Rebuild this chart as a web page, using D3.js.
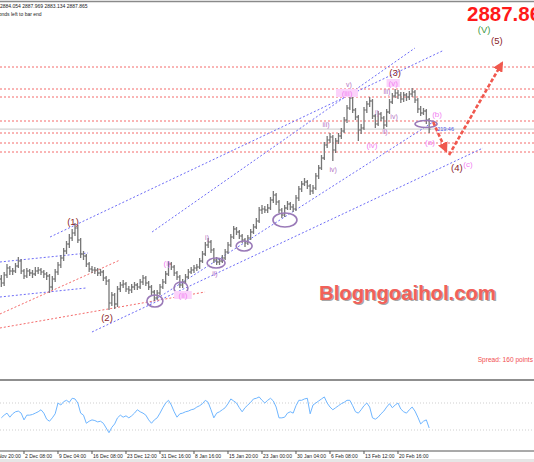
<!DOCTYPE html>
<html>
<head>
<meta charset="utf-8">
<script src="https://cdn.jsdelivr.net/npm/d3@7"></script>
<style>
  html, body { margin: 0; padding: 0; background: #fff; }
  svg { display: block; font-family: "Liberation Sans", Arial, sans-serif; }
</style>
</head>
<body>
<svg id="chart" width="534" height="462"></svg>
<script>
// H4 bars
const closes = [2580,2596,2610,2604,2604,2614,2624,2604,2594,2604,2600,2598,2604,2606,2602,2598,2594,2572,2588,2602,
  2616,2630,2644,2658,2670,2680,2690,2666,2638,2634,2618,2608,2606,2606,2600,2602,2590,2584,2540,2556,
  2538,2568,2576,2578,2568,2566,2572,2576,2572,2582,2590,2580,2572,2562,2550,2560,2572,2582,2598,2618,
  2612,2600,2592,2576,2582,2592,2602,2606,2610,2612,2624,2638,2656,2662,2646,2626,2622,2624,2630,2642,
  2656,2672,2688,2682,2674,2666,2660,2670,2682,2692,2704,2726,2728,2726,2730,2746,2756,2742,2726,2716,
  2730,2738,2732,2728,2750,2768,2778,2782,2774,2764,2770,2794,2810,2830,2856,2866,2872,2846,2864,2874,
  2884,2906,2930,2950,2926,2912,2886,2890,2926,2938,2944,2914,2898,2918,2910,2896,2922,2942,2954,2960,
  2956,2948,2956,2952,2958,2962,2946,2928,2920,2924,2906,2887.86];
const highs = [2596,2602,2618,2614,2610,2620,2632,2628,2608,2610,2608,2606,2612,2612,2610,2606,2602,2598,2594,2608,
  2622,2636,2650,2664,2678,2688,2700,2696,2670,2644,2638,2622,2614,2612,2610,2608,2606,2594,2588,2562,
  2560,2574,2582,2586,2582,2574,2578,2582,2580,2588,2596,2594,2584,2576,2566,2566,2578,2588,2604,2624,
  2622,2616,2604,2596,2588,2598,2608,2612,2616,2618,2630,2644,2662,2670,2666,2650,2632,2630,2636,2648,
  2662,2678,2694,2692,2686,2678,2670,2676,2688,2698,2710,2732,2736,2734,2738,2752,2764,2760,2746,2730,
  2736,2744,2742,2738,2756,2774,2784,2790,2786,2778,2776,2800,2816,2836,2862,2874,2880,2876,2870,2880,
  2890,2912,2936,2962,2954,2930,2916,2898,2932,2944,2952,2948,2918,2924,2922,2914,2928,2948,2960,2968,
  2966,2962,2962,2960,2964,2970,2966,2950,2934,2930,2928,2910];
const lows = [2572,2574,2590,2596,2596,2600,2610,2598,2588,2590,2594,2590,2594,2598,2596,2590,2586,2560,2566,2582,
  2596,2610,2624,2638,2650,2664,2674,2660,2630,2626,2612,2602,2600,2598,2594,2594,2584,2576,2526,2534,
  2528,2532,2562,2570,2562,2558,2560,2566,2566,2568,2576,2574,2566,2556,2544,2546,2556,2568,2578,2594,
  2606,2594,2586,2570,2570,2578,2588,2598,2600,2604,2608,2620,2634,2650,2640,2620,2616,2616,2620,2626,
  2638,2652,2668,2676,2668,2660,2652,2656,2666,2678,2688,2700,2718,2720,2720,2726,2740,2736,2720,2710,
  2712,2726,2726,2722,2724,2744,2762,2774,2768,2756,2758,2766,2788,2806,2826,2850,2860,2824,2840,2858,
  2868,2880,2900,2926,2920,2906,2864,2878,2886,2920,2932,2908,2890,2894,2904,2888,2892,2918,2938,2950,
  2948,2940,2942,2944,2946,2952,2940,2920,2914,2916,2898,2880];
const firstOpen = 2588;

// oscillator in the lower panel
const rsi = [48,52,55,49,54,57,58,55,45,52,52,53,55,57,60,55,46,43,48,54,
  70,67,72,74,71,77,76,70,55,52,40,43,45,44,42,43,40,33,26,34,
  39,48,52,49,51,48,51,55,60,57,55,52,45,40,45,48,55,63,70,74,
  67,57,49,54,55,57,58,60,61,64,66,69,74,71,60,48,55,57,60,63,
  69,76,73,70,63,57,63,67,71,76,77,79,74,70,74,77,73,64,48,48,
  49,55,57,55,66,74,74,76,77,54,67,70,73,76,79,70,64,60,63,66,
  69,71,74,74,66,57,55,60,66,70,64,48,46,49,54,58,64,69,63,67,
  70,61,57,55,60,64,58,49,39,43,45,33];
const rsiLevels = [70, 30];

const tickDates = ["29 Nov 20:00","2 Dec 08:00","9 Dec 04:00","16 Dec 08:00","23 Dec 12:00","31 Dec 16:00",
  "8 Jan 16:00","15 Jan 20:00","23 Jan 00:00","30 Jan 04:00","6 Feb 08:00","13 Feb 12:00","20 Feb 16:00"];
const tickBars = [-4,8,20,32,44,56,68,80,92,104,116,128,140];

const levels = [3012, 2968, 2952, 2904, 2880, 2860, 2842];
// [bar, price, bar, price]
const blueLines = [[17.2,2672,155.6,3044],[53.2,2682,146.0,3050],[51.4,2536,152.4,2902],
  [32.0,2482,170.0,2850],[-0.5,2622,30.6,2640],[-0.5,2552,29.9,2570]];
const redLines = [[-0.5,2518,41.9,2626],[-0.5,2490,71.9,2562]];
const arrows = [[152.4,2902,157.0,2844],[158.0,2836,176.7,3020]];
const circles = [[54.2,2544],[63.4,2570],[75.8,2620],[85.7,2654],[100.1,2706],[149.9,2898]];
const circleSize = [[8,6],[7,6],[9,5],[8,5],[12,7],[11,3.5]];

const waveLabels = [
  ["(1)",25.3,2702,"major"],["(2)",37.3,2510,"major"],["(3)",139.0,3001,"major"],
  ["(4)",160.8,2810,"major"],["(5)",174.9,3064,"major"],["(V)",170.4,3086,"cycle"],
  ["(c)",164.7,2818,"minor"],["(a)",151.3,2862,"minor"],["(b)",153.8,2918,"minor"],
  ["(iv)",130.8,2856,"minor"],["(v)",138.3,2980,"minorbox"],["(iii)",122.0,2960,"minorbox"],
  ["(i)",58.5,2620,"minor"],["(ii)",64.1,2556,"minorbox"],
  ["v)",122.7,2976,"sub"],["iii)",114.6,2896,"sub"],["iv)",117.1,2806,"sub"],
  ["i)",132.6,2920,"sub"],["ii)",135.4,2882,"sub"],["iv)",138.6,2912,"sub"],["iii)",136.1,2962,"sub"],
  ["i)",72.6,2670,"sub"],["ii)",75.4,2598,"sub"]
];

const width = 534;
const height = 462;
const svg = d3.select("#chart");

const x = d3.scaleLinear().domain([0, 12]).range([1.33, 35.33]);
const y = d3.scaleLinear().domain([2500, 2900]).range([323, 123]);
const yr = d3.scaleLinear().domain([0, 100]).range([450.25, 382.75]);

const labelColor = { major: "#8a2428", cycle: "#3f9a45", minor: "#f27ff2", minorbox: "#f27ff2", sub: "#b473c4" };
const labelSize = { major: 9.5, cycle: 9.5, minor: 8, minorbox: 8, sub: 7 };

const defs = svg.append("defs");
defs.append("clipPath").attr("id", "main").append("rect").attr("x", 0).attr("y", 3).attr("width", width).attr("height", 376);
defs.append("clipPath").attr("id", "sub").append("rect").attr("x", 0).attr("y", 382).attr("width", width).attr("height", 68);
defs.append("marker").attr("id", "head").attr("viewBox", "0 0 10 10").attr("refX", 8).attr("refY", 5)
  .attr("markerWidth", 4).attr("markerHeight", 4).attr("orient", "auto")
  .append("path").attr("d", "M0,0L10,5L0,10z").attr("fill", "#f0584e");

const main = svg.append("g").attr("clip-path", "url(#main)");

// bid line
main.append("line").attr("x1", 0).attr("x2", width)
  .attr("y1", y(closes[closes.length - 1])).attr("y2", y(closes[closes.length - 1]))
  .attr("stroke", "#d4d4d4").attr("stroke-width", 1.2);

// horizontal levels
main.append("g").selectAll("line").data(levels).join("line")
  .attr("x1", 0).attr("x2", width).attr("y1", d => y(d)).attr("y2", d => y(d))
  .attr("stroke", "#f46a6a").attr("stroke-width", 1).attr("stroke-dasharray", "2,2");

// trend channels
main.append("g").selectAll("line").data(blueLines).join("line")
  .attr("x1", d => x(d[0])).attr("y1", d => y(d[1])).attr("x2", d => x(d[2])).attr("y2", d => y(d[3]))
  .attr("stroke", "#6d6cf7").attr("stroke-width", 1).attr("stroke-dasharray", "2,2");
main.append("g").selectAll("line").data(redLines).join("line")
  .attr("x1", d => x(d[0])).attr("y1", d => y(d[1])).attr("x2", d => x(d[2])).attr("y2", d => y(d[3]))
  .attr("stroke", "#f46a6a").attr("stroke-width", 1).attr("stroke-dasharray", "2,2");

// bars
const bars = main.append("g").attr("stroke", "#777").attr("stroke-width", 1.3);
closes.forEach((c, i) => {
  const o = i === 0 ? firstOpen : closes[i - 1];
  const xi = x(i);
  bars.append("line").attr("x1", xi).attr("x2", xi).attr("y1", y(highs[i])).attr("y2", y(lows[i]));
  bars.append("line").attr("x1", xi - 1.3).attr("x2", xi).attr("y1", y(o)).attr("y2", y(o));
  bars.append("line").attr("x1", xi).attr("x2", xi + 1.3).attr("y1", y(c)).attr("y2", y(c));
});

// circled lows
main.append("g").selectAll("ellipse").data(circles).join("ellipse")
  .attr("cx", d => x(d[0])).attr("cy", d => y(d[1]))
  .attr("rx", (d, i) => circleSize[i][0]).attr("ry", (d, i) => circleSize[i][1])
  .attr("fill", "none").attr("stroke", "#9a7ab8").attr("stroke-width", 1.6);

// arrows
main.append("g").selectAll("line").data(arrows).join("line")
  .attr("x1", d => x(d[0])).attr("y1", d => y(d[1])).attr("x2", d => x(d[2])).attr("y2", d => y(d[3]))
  .attr("stroke", "#f0584e").attr("stroke-width", 2.6).attr("stroke-dasharray", "4,2")
  .attr("marker-end", "url(#head)");

// wave labels
const lab = main.append("g").attr("text-anchor", "middle");
lab.selectAll("rect").data(waveLabels.filter(d => d[3] === "minorbox")).join("rect")
  .attr("x", d => x(d[1]) - d[0].length * 2.2).attr("y", d => y(d[2]) - 4)
  .attr("width", d => d[0].length * 4.4).attr("height", 8).attr("fill", "#fbd3fb");
lab.selectAll("text").data(waveLabels).join("text")
  .attr("x", d => x(d[1])).attr("y", d => y(d[2])).attr("dy", "0.35em")
  .attr("font-size", d => labelSize[d[3]]).attr("fill", d => labelColor[d[3]])
  .text(d => d[0]);

// price tag next to the last bar
main.append("text").attr("x", x(151) + 8).attr("y", y(closes[151]) + 2)
  .attr("font-size", 5.5).attr("fill", "#4b55e6").text("219:46");

// watermark
main.append("text").attr("x", 319).attr("y", 300).attr("font-size", 20.3).attr("font-weight", "bold")
  .attr("fill", "#6e6e6e").attr("opacity", 0.6).attr("transform", "translate(1.3,1.3)").text("Blogngoaihol.com");
main.append("text").attr("x", 319).attr("y", 300).attr("font-size", 20.3).attr("font-weight", "bold")
  .attr("fill", "#f2615a").text("Blogngoaihol.com");

main.append("text").attr("x", 533).attr("y", 362).attr("text-anchor", "end")
  .attr("font-size", 6.6).attr("fill", "#f25050").text("Spread: 160 points");

// header
svg.append("line").attr("x1", 0).attr("x2", width).attr("y1", 1.5).attr("y2", 1.5)
  .attr("stroke", "#8a8a8a").attr("stroke-width", 1.5);
svg.append("text").attr("x", 0).attr("y", 8).attr("font-size", 5).attr("fill", "#222")
  .text("2884.054 2887.969 2883.134 2887.865");
svg.append("text").attr("x", -9).attr("y", 15.5).attr("font-size", 5).attr("fill", "#222")
  .text("seconds left to bar end");
svg.append("text").attr("x", 467).attr("y", 21).attr("font-size", 20.5).attr("font-weight", "bold")
  .attr("fill", "#ff1a1a").text("2887.86");

// lower panel
svg.append("line").attr("x1", 0).attr("x2", width).attr("y1", 380).attr("y2", 380)
  .attr("stroke", "#8f8f8f").attr("stroke-width", 2);
const sub = svg.append("g").attr("clip-path", "url(#sub)");
sub.selectAll("line").data(rsiLevels).join("line")
  .attr("x1", 0).attr("x2", width).attr("y1", d => yr(d)).attr("y2", d => yr(d))
  .attr("stroke", "#cfcfcf").attr("stroke-dasharray", "1,2");
sub.append("path").datum(rsi)
  .attr("d", d3.line().x((d, i) => x(i)).y(d => yr(d)))
  .attr("fill", "none").attr("stroke", "#6fb6ff").attr("stroke-width", 1);

// time axis
svg.append("line").attr("x1", 0).attr("x2", width).attr("y1", 451).attr("y2", 451)
  .attr("stroke", "#555").attr("stroke-width", 1);
const ticks = svg.append("g").selectAll("g").data(tickBars).join("g")
  .attr("transform", d => `translate(${x(d)},451)`);
ticks.append("line").attr("y1", 0).attr("y2", 3).attr("stroke", "#555");
ticks.append("text").attr("x", 1).attr("y", 6.5).attr("font-size", 5).attr("fill", "#222")
  .text((d, i) => tickDates[i]);
svg.append("rect").attr("x", 0).attr("y", 459).attr("width", width).attr("height", 3).attr("fill", "#e6e6e6");
</script>
</body>
</html>
